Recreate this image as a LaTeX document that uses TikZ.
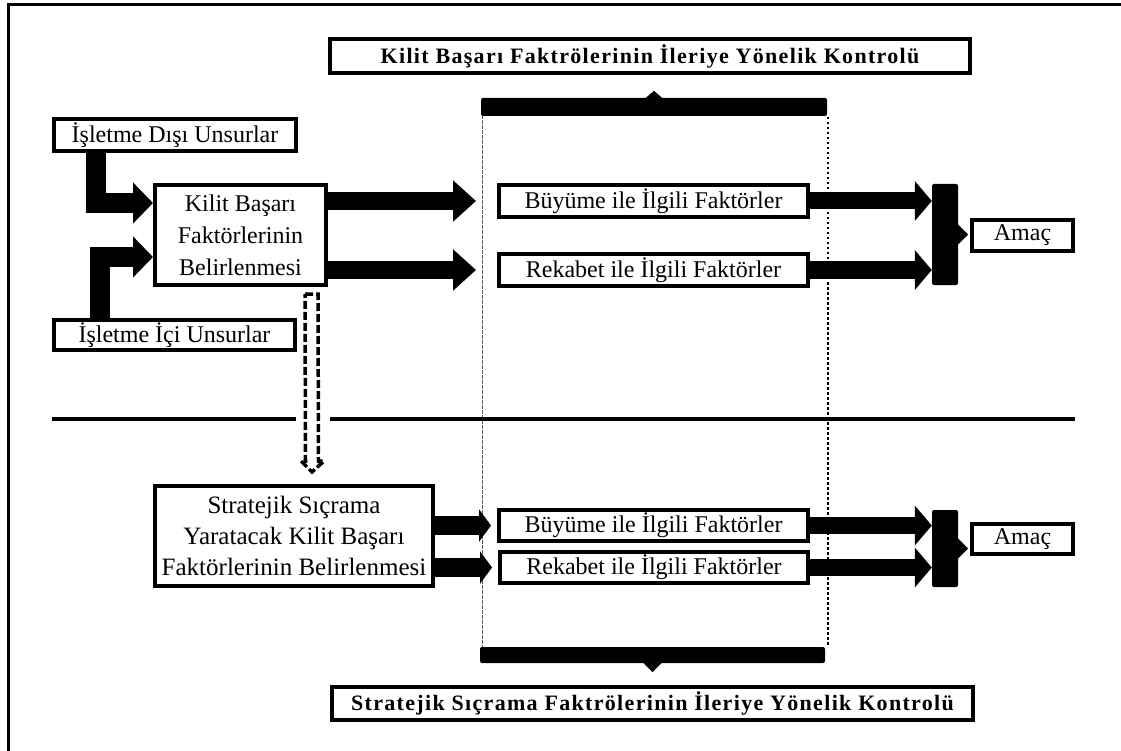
\documentclass[tikz,border=0pt]{standalone}
\usepackage{fontspec}
\setmainfont{Liberation Serif}
\newfontfamily\titlefont{Liberation Serif}[LetterSpace=6]
\usetikzlibrary{arrows.meta,calc}
\begin{document}
\begin{tikzpicture}[x=1pt,y=-1pt,
  box/.style={draw,line width=4pt,inner sep=0pt,font=\fontsize{24}{32}\selectfont,align=center},
  ttl/.style={draw,line width=4pt,inner sep=0pt,font=\titlefont\bfseries\fontsize{22}{24}\selectfont},
  bar/.style={fill=black,rounded corners=2pt,inner sep=0pt},
  fatA/.style={line width=18pt,-{Triangle[length=23pt,width=40pt]}},
  fatB/.style={line width=17pt,-{Triangle[length=17pt,width=39pt]}},
  fatC/.style={line width=19pt,-{Triangle[length=12pt,width=32pt]}},
  elbowA/.style={line width=20pt,line join=miter,-{Triangle[length=20pt,width=40pt]}},
  sep/.style={line width=4pt},
  frame/.style={line width=3pt}
]
\useasboundingbox (0,0) rectangle (1121,751);
% frame
\draw[frame] (7,5) -- (1121,5);
\draw[frame] (8,5) -- (8,751);

% vertical guide lines
\draw[line width=0.8pt,gray!70!black,dash pattern=on 4pt off 1pt] (482,115) -- (482,647);
\draw[line width=1.5pt,dash pattern=on 2.5pt off 2.5pt] (828,117) -- (828,647);

% titles
\node[ttl,minimum width=640,minimum height=34] (t1) at (650,56) {Kilit Başarı Faktrölerinin İleriye Yönelik Kontrolü};
\node[ttl,minimum width=641,minimum height=33] (t2) at (652.5,703.5) {Stratejik Sıçrama Faktrölerinin İleriye Yönelik Kontrolü};

% bars
\node[bar,minimum width=346,minimum height=18] (bar1) at (654,107) {};
\fill ([xshift=-8]bar1.north) -- ([yshift=7]bar1.north) -- ([xshift=8]bar1.north) -- cycle;
\node[bar,minimum width=345,minimum height=16] (bar2) at (652.5,655) {};
\fill ([xshift=-9]bar2.south) -- ([yshift=-9]bar2.south) -- ([xshift=9]bar2.south) -- cycle;

% left boxes
\node[box,minimum width=242,minimum height=32] (dis) at (175,135) {İşletme Dışı Unsurlar};
\node[box,minimum width=241,minimum height=30] (ici) at (174.5,335) {İşletme İçi Unsurlar};
\node[box,minimum width=171,minimum height=100] (kilit) at (240.5,235) {Kilit Başarı\\Faktörlerinin\\Belirlenmesi};
\node[box,minimum width=278,minimum height=100,font=\fontsize{25}{31}\selectfont] (strat) at (294,536) {Stratejik Sıçrama\\Yaratacak Kilit Başarı\\Faktörlerinin Belirlenmesi};

% middle boxes
\node[box,minimum width=309,minimum height=32] (b1) at (653.5,201) {Büyüme ile İlgili Faktörler};
\node[box,minimum width=309,minimum height=32] (r1) at (653.5,270) {Rekabet ile İlgili Faktörler};
\node[box,minimum width=309,minimum height=31] (b2) at (653.5,525.5) {Büyüme ile İlgili Faktörler};
\node[box,minimum width=308,minimum height=31] (r2) at (654,567.5) {Rekabet ile İlgili Faktörler};

% right brackets and goals
\node[bar,minimum width=26,minimum height=101] (br1) at (945,234.5) {};
\fill ([yshift=10]br1.east) -- ([xshift=10]br1.east) -- ([yshift=-10]br1.east) -- cycle;
\node[bar,minimum width=26,minimum height=77] (br2) at (945,548.5) {};
\fill ([yshift=10]br2.east) -- ([xshift=10]br2.east) -- ([yshift=-10]br2.east) -- cycle;
\node[box,minimum width=101,minimum height=31] (a1) at (1022.5,235.5) {Amaç};
\node[box,minimum width=101,minimum height=30] (a2) at (1022.5,539) {Amaç};

% elbow arrows into kilit
\draw[elbowA] ([xshift=-79]dis.south) |- ([yshift=32]kilit.west);
\draw[elbowA] ([xshift=-75]ici.north) |- ([yshift=-22]kilit.west);

% fat arrows
\draw[fatA] (kilit.east |- b1.west) -- ([xshift=-21]b1.west);
\draw[fatA] (kilit.east |- r1.west) -- ([xshift=-21]r1.west);
\draw[fatB] (b1.east) -- (br1.west |- b1.east);
\draw[fatB] (r1.east) -- (br1.west |- r1.east);
\draw[fatC] (strat.east |- b2.west) -- ([xshift=-6]b2.west);
\draw[fatC] (strat.east |- r2.west) -- ([xshift=-6]r2.west);
\draw[fatB] (b2.east) -- (br2.west |- b2.east);
\draw[fatB] (r2.east) -- (br2.west |- r2.east);

% separator
\draw[sep] (52,419) -- (296,419);
\draw[sep] (330,419) -- (1075,419);

% dashed hollow arrow
\coordinate (dtop) at ([xshift=71,yshift=-7]kilit.south);
\coordinate (dtip) at ([xshift=18,yshift=12]strat.north);
\draw[line width=3.5pt,dash pattern=on 8pt off 3pt,line join=miter]
  ($(dtop)+(-6.5,0)$) -- ($(dtop)+(6.5,0)$) -- ($(dtip)+(6.5,-11)$) -- ($(dtip)+(12,-11)$)
  -- (dtip) -- ($(dtip)+(-11,-11)$) -- ($(dtip)+(-6.5,-11)$) -- cycle;
\end{tikzpicture}
\end{document}
